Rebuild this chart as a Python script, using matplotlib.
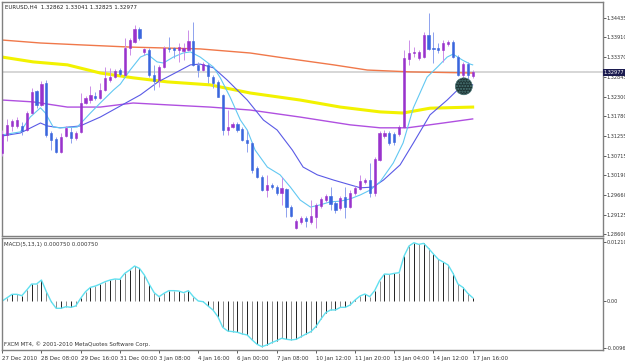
import matplotlib.pyplot as plt

# H4 candles, bar index 0 = 27 Dec 2010 00:00
opens = [1.3079, 1.3128, 1.3152, 1.3152, 1.3152, 1.3141, 1.3187, 1.3246, 1.3209, 1.3268,
         1.3133, 1.3117, 1.3082, 1.3125, 1.3136, 1.3120, 1.3136, 1.3214, 1.3222, 1.3233,
         1.3228, 1.3249, 1.3276, 1.3284, 1.3303, 1.3290, 1.3363, 1.3379, 1.3414, 1.3352,
         1.3357, 1.3290, 1.3276, 1.3311, 1.3363, 1.3363, 1.3357, 1.3354, 1.3357, 1.3381,
         1.3317, 1.3303, 1.3317, 1.3284, 1.3271, 1.3236, 1.3141, 1.3149, 1.3157, 1.3144,
         1.3114, 1.3106, 1.3039, 1.3014, 1.2979, 1.2993, 1.2987, 1.2971, 1.2982, 1.2933,
         1.2877, 1.2893, 1.2904, 1.2893, 1.2906, 1.2936, 1.2952, 1.2963, 1.2944, 1.2931,
         1.2960, 1.2933, 1.2971, 1.2982, 1.3001, 1.3006, 1.2971, 1.3060, 1.3125, 1.3133,
         1.3130, 1.3130, 1.3149, 1.3333, 1.3349, 1.3336, 1.3338, 1.3398, 1.3363, 1.3363,
         1.3357, 1.3373, 1.3379, 1.3338, 1.3290, 1.3319, 1.32862]
highs = [1.3141, 1.3171, 1.3171, 1.3176, 1.3163, 1.3192, 1.3254, 1.3249, 1.3273, 1.3276,
         1.3138, 1.3122, 1.3133, 1.3152, 1.3149, 1.3138, 1.3241, 1.3233, 1.3260, 1.3244,
         1.3268, 1.3311, 1.3309, 1.3306, 1.3309, 1.3390, 1.3390, 1.3425, 1.3419, 1.3363,
         1.3363, 1.3317, 1.3317, 1.3368, 1.3392, 1.3365, 1.3376, 1.3376, 1.3411, 1.3433,
         1.3325, 1.3325, 1.3322, 1.3290, 1.3276, 1.3238, 1.3195, 1.3163, 1.3163, 1.3149,
         1.3141, 1.3109, 1.3044, 1.3020, 1.3020, 1.2998, 1.2993, 1.3014, 1.2985, 1.2939,
         1.2901, 1.2909, 1.2909, 1.2952, 1.2944, 1.2960, 1.2968, 1.2987, 1.2949, 1.2963,
         1.2987, 1.2979, 1.2990, 1.3020, 1.3011, 1.3052, 1.3068, 1.3138, 1.3141, 1.3138,
         1.3136, 1.3155, 1.3357, 1.3384, 1.3365, 1.3357, 1.3406, 1.3457, 1.3406, 1.3376,
         1.3384, 1.3384, 1.3384, 1.3344, 1.3325, 1.3325, 1.33041]
lows = [1.3071, 1.3111, 1.3138, 1.3147, 1.3128, 1.3138, 1.3184, 1.3201, 1.3206, 1.3122,
        1.3087, 1.3079, 1.3079, 1.3122, 1.3106, 1.3114, 1.3133, 1.3211, 1.3214, 1.3222,
        1.3225, 1.3246, 1.3271, 1.3282, 1.3287, 1.3287, 1.3344, 1.3376, 1.3384, 1.3344,
        1.3284, 1.3249, 1.3257, 1.3309, 1.3352, 1.3336, 1.3325, 1.3330, 1.3354, 1.3314,
        1.3284, 1.3300, 1.3268, 1.3254, 1.3230, 1.3128, 1.3128, 1.3147, 1.3136, 1.3111,
        1.3082, 1.3025, 1.3011, 1.2976, 1.2960, 1.2982, 1.2966, 1.2939, 1.2906, 1.2906,
        1.2874, 1.2887, 1.2879, 1.2887, 1.2877, 1.2931, 1.2947, 1.2925, 1.2917, 1.2925,
        1.2904, 1.2931, 1.2966, 1.2979, 1.2995, 1.2960, 1.2963, 1.3057, 1.3120, 1.3101,
        1.3101, 1.3125, 1.3147, 1.3317, 1.3338, 1.3330, 1.3336, 1.3357, 1.3322, 1.3349,
        1.3325, 1.3368, 1.3336, 1.3287, 1.3282, 1.3279, 1.32825]
closes = [1.3130, 1.3155, 1.3165, 1.3168, 1.3138, 1.3187, 1.3244, 1.3209, 1.3265, 1.3128,
          1.3114, 1.3082, 1.3122, 1.3147, 1.3120, 1.3133, 1.3214, 1.3228, 1.3236, 1.3228,
          1.3249, 1.3282, 1.3284, 1.3300, 1.3292, 1.3363, 1.3384, 1.3414, 1.3390, 1.3360,
          1.3290, 1.3273, 1.3311, 1.3363, 1.3360, 1.3357, 1.3365, 1.3363, 1.3381, 1.3317,
          1.3303, 1.3319, 1.3287, 1.3268, 1.3230, 1.3141, 1.3149, 1.3157, 1.3141, 1.3114,
          1.3106, 1.3033, 1.3014, 1.2979, 1.2993, 1.2987, 1.2971, 1.2985, 1.2933, 1.2909,
          1.2895, 1.2904, 1.2895, 1.2909, 1.2939, 1.2955, 1.2963, 1.2941, 1.2925, 1.2958,
          1.2933, 1.2971, 1.2985, 1.3003, 1.3006, 1.2971, 1.3063, 1.3133, 1.3133, 1.3106,
          1.3109, 1.3149, 1.3336, 1.3349, 1.3352, 1.3352, 1.3398, 1.3360, 1.3360, 1.3357,
          1.3376, 1.3379, 1.3338, 1.3290, 1.3319, 1.3290, 1.32977]

macd = [0.0000, 0.00068, 0.00137, 0.00137, 0.00109, 0.00225, 0.00348, 0.00348, 0.00430, 0.00191,
        -0.00014, -0.00150, -0.00150, -0.00116, -0.00130, -0.00102, 0.00055, 0.00191, 0.00280, 0.00307,
        0.00348, 0.00396, 0.00430, 0.00451, 0.00444, 0.00567, 0.00635, 0.00717, 0.00669, 0.00533,
        0.00342, 0.00171, 0.00089, 0.00157, 0.00212, 0.00212, 0.00205, 0.00171, 0.00212, 0.00089,
        0.0, -0.00014, -0.00102, -0.00184, -0.00321, -0.00540, -0.00615, -0.00628, -0.00642, -0.00676,
        -0.00697, -0.00799, -0.00888, -0.00936, -0.00902, -0.00854, -0.00813, -0.00765, -0.00785, -0.00799,
        -0.00785, -0.00731, -0.00676, -0.00628, -0.00526, -0.00376, -0.00239, -0.00184, -0.00184, -0.00130,
        -0.00130, -0.00082, 0.00020, 0.00102, 0.00143, 0.00089, 0.00212, 0.00417, 0.00553, 0.00546,
        0.00567, 0.00581, 0.00922, 0.01127, 0.01195, 0.01161, 0.01182, 0.01079, 0.00963, 0.00854,
        0.00799, 0.00738, 0.00567, 0.00348, 0.00280, 0.00157, 0.00068]

# moving averages (bar position, price)
ma_orange_x = [0, 7.8, 15.9, 26.1, 40.4, 50.6, 57.3, 67.6, 74.5, 83.3, 96]
ma_orange_y = [1.3384, 1.3376, 1.3371, 1.3365, 1.3360, 1.3349, 1.3336, 1.3317, 1.3303, 1.3298, 1.3295]

ma_yellow_x = [0, 6.3, 13.3, 20, 26.7, 33.7, 42.4, 50.6, 60.8, 69, 77.1, 81.8, 87.3, 96]
ma_yellow_y = [1.3338, 1.3325, 1.3317, 1.3295, 1.3282, 1.3271, 1.3263, 1.3241, 1.3222, 1.3203,
               1.3190, 1.3187, 1.3200, 1.3203]

ma_purple_x = [0, 6.3, 13.3, 20, 26.7, 33.7, 42.4, 50.6, 60.8, 71, 77.1, 82.7, 90, 96]
ma_purple_y = [1.3222, 1.3217, 1.3203, 1.3203, 1.3214, 1.3209, 1.3203, 1.3195, 1.3176, 1.3155,
               1.3147, 1.3147, 1.3160, 1.3171]

ma_blue_x = [0, 3.7, 7.8, 9.2, 11.8, 15.9, 20, 24.1, 28.2, 31.8, 35.7, 38.4, 40.4, 43.1, 45.9, 50,
             53.3, 56.1, 59.2, 61.4, 64.3, 67.6, 71, 73.1, 75.7, 77.8, 81.2, 83.9, 87.3, 90.8, 92.9, 96]
ma_blue_y = [1.3125, 1.3133, 1.3160, 1.3152, 1.3147, 1.3152, 1.3176, 1.3206, 1.3236, 1.3271, 1.3298,
             1.3317, 1.3319, 1.3309, 1.3276, 1.3222, 1.3168, 1.3141, 1.3087, 1.3041, 1.3020, 1.3006,
             1.2993, 1.2985, 1.2987, 1.3006, 1.3047, 1.3106, 1.3182, 1.3222, 1.3249, 1.3263]

ma_cyan_x = [0, 3.7, 5.7, 7.8, 8.8, 10.4, 11.8, 15.3, 18, 20, 22.7, 24.1, 26.1, 28.2, 29.6, 31.6,
             32.9, 34.9, 36.9, 38.4, 40.4, 43.1, 44.5, 46.5, 48.6, 50, 51.6, 54.1, 56.7, 58.8, 60.8,
             62.9, 64.9, 66.9, 69, 71, 73.1, 75.1, 77.1, 79.8, 81.8, 83.9, 86.7, 88.8, 90.8, 92,
             93.9, 95.5, 96]
ma_cyan_y = [1.3128, 1.3136, 1.3176, 1.3201, 1.3187, 1.3149, 1.3147, 1.3149, 1.3187, 1.3214, 1.3249,
             1.3265, 1.3303, 1.3338, 1.3346, 1.3325, 1.3322, 1.3338, 1.3349, 1.3352, 1.3338, 1.3311,
             1.3282, 1.3230, 1.3168, 1.3141, 1.3087, 1.3041, 1.3020, 1.2987, 1.2952, 1.2933, 1.2939,
             1.2947, 1.2949, 1.2955, 1.2966, 1.2979, 1.3001, 1.3052, 1.3106, 1.3201, 1.3284, 1.3311,
             1.3338, 1.3346, 1.3330, 1.3319, 1.3317]

price_ticks = [1.34435, 1.33910, 1.33370, 1.32845, 1.32300, 1.31780, 1.31255, 1.30715,
               1.30190, 1.29660, 1.29125, 1.28600]
macd_ticks = [0.01210, 0.0, -0.00961]
macd_tick_labels = ["0.01210", "0.00", "-0.00961"]

time_bars = [0, 8, 16, 24, 32, 40, 48, 56, 64, 72, 80, 88, 96]
time_labels = ["27 Dec 2010", "28 Dec 08:00", "29 Dec 16:00", "31 Dec 00:00", "3 Jan 08:00",
               "4 Jan 16:00", "6 Jan 00:00", "7 Jan 08:00", "10 Jan 12:00", "11 Jan 20:00",
               "13 Jan 04:00", "14 Jan 12:00", "17 Jan 16:00"]

last_price = 1.32977
marker_bar, marker_price = 94.2, 1.3259

fs = 4.0
fs_right = 3.6
frame = "#808080"

fig = plt.figure(figsize=(6.25, 3.63), dpi=100)
ax = fig.add_axes([2 / 625, 1 - 236 / 363, 601 / 625, 234 / 363])
ax2 = fig.add_axes([2 / 625, 1 - 350 / 363, 601 / 625, 112 / 363])

# price panel
ax.axhline(last_price, color="#d0d0d0", lw=1.2, zorder=1)
ax.plot(ma_orange_x, ma_orange_y, color="#f0784a", lw=1.0, zorder=2)
ax.plot(ma_yellow_x, ma_yellow_y, color="#f2f200", lw=2.2, zorder=2)
ax.plot(ma_purple_x, ma_purple_y, color="#b050e0", lw=1.0, zorder=2)
ax.plot(ma_blue_x, ma_blue_y, color="#5a5ae6", lw=0.8, zorder=3)
ax.plot(ma_cyan_x, ma_cyan_y, color="#62c8f2", lw=0.8, zorder=3)

for i, (o, h, l, c) in enumerate(zip(opens, highs, lows, closes)):
    up = c >= o
    body = "#9933cc" if up else "#3a66dd"
    wick = "#cc8ee8" if up else "#8ea2ee"
    ax.vlines(i, l, h, color=wick, lw=0.7, zorder=4)
    ax.bar(i, abs(c - o), bottom=min(o, c), width=0.45, color=body,
           edgecolor=body, lw=0.4, zorder=5)

ax.scatter([marker_bar], [marker_price], s=150, facecolor="#1e3434",
           edgecolor="#4d7a7a", hatch="......", lw=0.4, zorder=6)

ax.set_xlim(-0.05, 122.6)
ax.set_ylim(1.28549, 1.34867)
ax.set_xticks([])
ax.yaxis.tick_right()
ax.set_yticks(price_ticks)
ax.set_yticklabels([f"{v:.5f}" for v in price_ticks])
ax.tick_params(axis="y", labelsize=fs_right, length=2.0, width=0.6, pad=0.8,
               color="#444444", labelcolor="#333333")
for s in ax.spines.values():
    s.set_color(frame)
    s.set_linewidth(1.0)

ax.text(1.0015, last_price, "1.32977", transform=ax.get_yaxis_transform(),
        fontsize=fs_right, color="white", va="center", ha="left", zorder=10, clip_on=False,
        bbox=dict(boxstyle="square,pad=0.2", facecolor="#1c1c50", edgecolor="none"))

fig.text(5 / 625, 1 - 7 / 363, "EURUSD,H4  1.32862 1.33041 1.32825 1.32977",
         fontsize=fs, color="#222222", va="center", ha="left")

# MACD panel
bars = range(len(macd))
for i, v in zip(bars, macd):
    ax2.vlines(i, 0, v, color="#222222" if i % 2 == 0 else "#8a8a8a", lw=0.7)
ax2.plot(list(bars), macd, color="#60e0f0", lw=1.0)

ax2.set_xlim(-0.05, 122.6)
ax2.set_ylim(-0.01005, 0.01292)
ax2.yaxis.tick_right()
ax2.set_yticks(macd_ticks)
ax2.set_yticklabels(macd_tick_labels)
ax2.set_xticks(time_bars)
ax2.set_xticklabels(time_labels, ha="left")
ax2.tick_params(axis="y", labelsize=fs_right, length=2.0, width=0.6, pad=0.8,
                color="#444444", labelcolor="#333333")
ax2.tick_params(axis="x", labelsize=fs, length=2.5, width=0.6, pad=1.5,
                color="#444444", labelcolor="#333333")
for s in ax2.spines.values():
    s.set_color(frame)
    s.set_linewidth(1.0)

ax2.text(0.004, 0.96, "MACD(5,13,1) 0.000750 0.000750", transform=ax2.transAxes,
         fontsize=fs, color="#333333", va="top", ha="left")
ax2.text(0.004, 0.03, "FXCM MT4, \u00a9 2001-2010 MetaQuotes Software Corp.",
         transform=ax2.transAxes, fontsize=fs, color="#333333", va="bottom", ha="left")

fig.savefig("out.png", dpi=100, facecolor="white")
